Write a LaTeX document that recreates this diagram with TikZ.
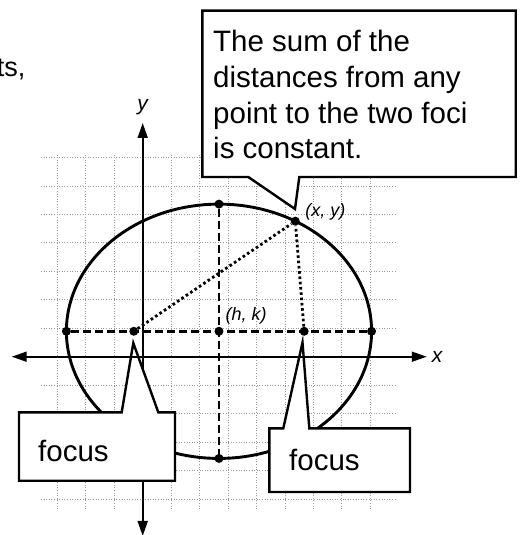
\documentclass[tikz,border=0pt]{standalone}
\usepackage{fontspec}
\setmainfont{Liberation Sans}
\usetikzlibrary{arrows.meta}

\begin{document}
\begin{tikzpicture}[x=1pt,y=-1pt,
  gridline/.style={draw=gray!80,line width=0.8pt,dash pattern=on 1pt off 1.6pt},
  axisline/.style={line width=1.7pt,{Triangle[length=15pt,width=10pt]}-{Triangle[length=15pt,width=10pt]}},
  curve/.style={line width=2.9pt},
  halfaxis/.style={line width=2.8pt,dash pattern=on 8pt off 4pt},
  distline/.style={line width=2.8pt,dash pattern=on 2.6pt off 2.7pt},
  dot/.style={circle,fill=black,inner sep=0pt,minimum size=9pt},
  axlabel/.style={inner sep=0pt,font=\itshape\fontsize{21}{25}\selectfont},
  ptlabel/.style={inner sep=0pt,anchor=base west,font=\itshape\fontsize{18}{21.6}\selectfont},
  callout/.style={fill=white,draw=black,line width=2.4pt,line join=miter},
  calltext/.style={inner sep=0pt,anchor=base west,font=\fontsize{29.5}{35.4}\selectfont}]
\path[use as bounding box] (0,0) rectangle (521,535);
% cut-off word at the left edge
\node[inner sep=0pt,anchor=base east,font=\fontsize{27}{32}\selectfont] (cut) at (25.5,76) {ts,};
% the graph, in grid units
\begin{scope}[shift={(142.7,356.7)},x=25.43pt,y=25.43pt]
\draw[gridline] (-4,-6) grid (10,8);
\coordinate (xl) at (-5.15,0);
\coordinate (xr) at (11.17,0);
\coordinate (yb) at (0,-7.05);
\coordinate (yt) at (0,9.19);
\draw[axisline] (yb) -- (yt);
\node[axlabel,anchor=base] (ylab) at (0,9.68) {y};
\node[axlabel,anchor=base west] (xlab) at (11.36,-0.24) {x};
\draw[curve] (3,1) ellipse [x radius=6,y radius=5];
\node[dot] (hk) at (3,1) {};
\node[dot] (vl) at (-3,1) {};
\node[dot] (vr) at (9,1) {};
\node[dot] (vt) at (3,6) {};
\node[dot] (vb) at (3,-4) {};
\node[dot] (f1) at (-0.35,1) {};
\node[dot] (f2) at (6.35,1) {};
\node[dot] (pt) at (6,5.33) {};
\draw[halfaxis] (vl) -- (vr);
\draw[halfaxis] (vt) -- (vb);
\draw[distline] (f1) -- (pt);
\draw[distline] (f2) -- (pt);
\node[ptlabel] (ptlab) at (6.385,5.53) {(x, y)};
\node[ptlabel] (hklab) at (3.256,1.44) {(h, k)};
\end{scope}
% callouts
\coordinate (tipbig) at (295,209);
\coordinate (tipleft) at (133.3,343);
\coordinate (tipright) at (302.5,342.5);
\draw[callout] (202.3,10.7) -- (515.7,10.7) -- (515.7,177) -- (299.3,177) -- (tipbig) -- (248.3,177) -- (202.3,177) -- cycle;
\node[calltext] (sum1) at (213,52) {The sum of the};
\node[calltext] (sum2) at (213,87.5) {distances from any};
\node[calltext] (sum3) at (213,123) {point to the two foci};
\node[calltext] (sum4) at (213,158.5) {is constant.};
\draw[callout] (19,412.3) -- (121.7,412.3) -- (tipleft) -- (158.3,412.3) -- (175,412.3) -- (175,480.7) -- (19,480.7) -- cycle;
\node[calltext] (focleft) at (38,461) {focus};
\draw[callout] (269.3,428.3) -- (283.3,428.3) -- (tipright) -- (309.3,428.3) -- (410,428.3) -- (410,492) -- (269.3,492) -- cycle;
\node[calltext] (focright) at (289,470) {focus};
\draw[axisline] (xl) -- (xr);
\end{tikzpicture}
\end{document}
